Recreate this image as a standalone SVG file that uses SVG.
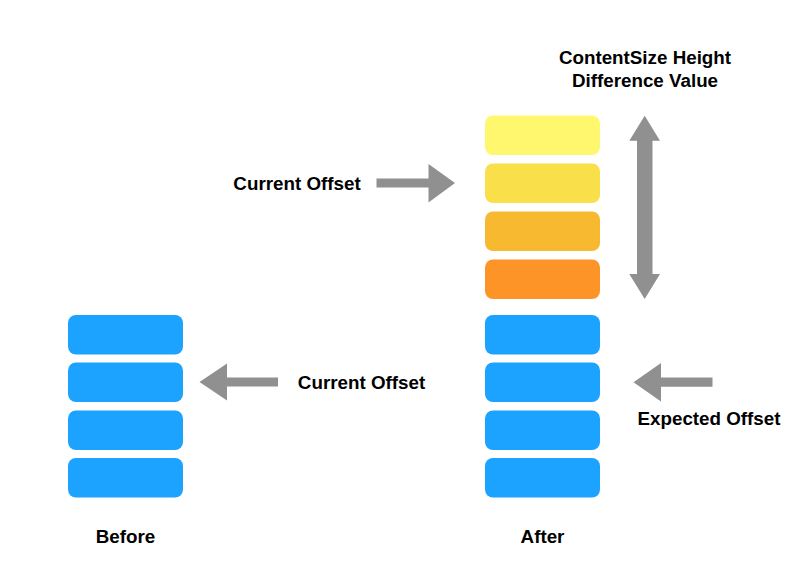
<svg xmlns="http://www.w3.org/2000/svg" width="800" height="582" viewBox="0 0 800 582">
<style>
.box{stroke:none}
.blue{fill:#1CA2FF}
.lbl{font-family:"Liberation Sans",Arial,sans-serif;font-weight:bold;font-size:18.8px;fill:#000}
.arr{fill:#909090}
</style>
<rect width="800" height="582" fill="#fff"/>
<g id="before-stack">
<rect class="box blue" x="68" y="315" width="115" height="39.5" rx="8"/>
<rect class="box blue" x="68" y="362.5" width="115" height="39.5" rx="8"/>
<rect class="box blue" x="68" y="410.5" width="115" height="39.5" rx="8"/>
<rect class="box blue" x="68" y="458" width="115" height="39.5" rx="8"/>
</g>
<g id="after-stack">
<rect class="box" fill="#FFF76E" x="485" y="115.5" width="115" height="39.5" rx="8"/>
<rect class="box" fill="#F9DF4A" x="485" y="163.5" width="115" height="39.5" rx="8"/>
<rect class="box" fill="#F7B930" x="485" y="211.5" width="115" height="39.5" rx="8"/>
<rect class="box" fill="#FD9428" x="485" y="259.5" width="115" height="39.5" rx="8"/>
<rect class="box blue" x="485" y="315" width="115" height="39.5" rx="8"/>
<rect class="box blue" x="485" y="362.5" width="115" height="39.5" rx="8"/>
<rect class="box blue" x="485" y="410.5" width="115" height="39.5" rx="8"/>
<rect class="box blue" x="485" y="458" width="115" height="39.5" rx="8"/>
</g>
<g id="labels">
<text class="lbl" x="645" y="63.5" text-anchor="middle">ContentSize Height</text>
<text class="lbl" x="645" y="87" text-anchor="middle">Difference Value</text>
<text class="lbl" x="297" y="190" text-anchor="middle">Current Offset</text>
<text class="lbl" x="361.5" y="388.5" text-anchor="middle">Current Offset</text>
<text class="lbl" x="709" y="425" text-anchor="middle">Expected Offset</text>
<text class="lbl" x="125.5" y="542.5" text-anchor="middle">Before</text>
<text class="lbl" x="542.5" y="542.5" text-anchor="middle">After</text>
</g>
<g id="connectors">
<polygon class="arr" points="376.5,178.5 428.5,178.5 428.5,164 455,183 428.5,202.5 428.5,187.5 376.5,187.5"/>
<polygon class="arr" points="278,377.5 227,377.5 227,363.5 199.5,382 227,400.5 227,386.5 278,386.5"/>
<polygon class="arr" points="712.5,377.5 661,377.5 661,363 633.5,382.3 661,401.5 661,386.7 712.5,386.7"/>
<polygon class="arr" points="644.7,115.7 660,140.7 652.5,140.7 652.5,274 660,274 644.7,299 629.3,274 637,274 637,140.7 629.3,140.7"/>
</g>
</svg>
